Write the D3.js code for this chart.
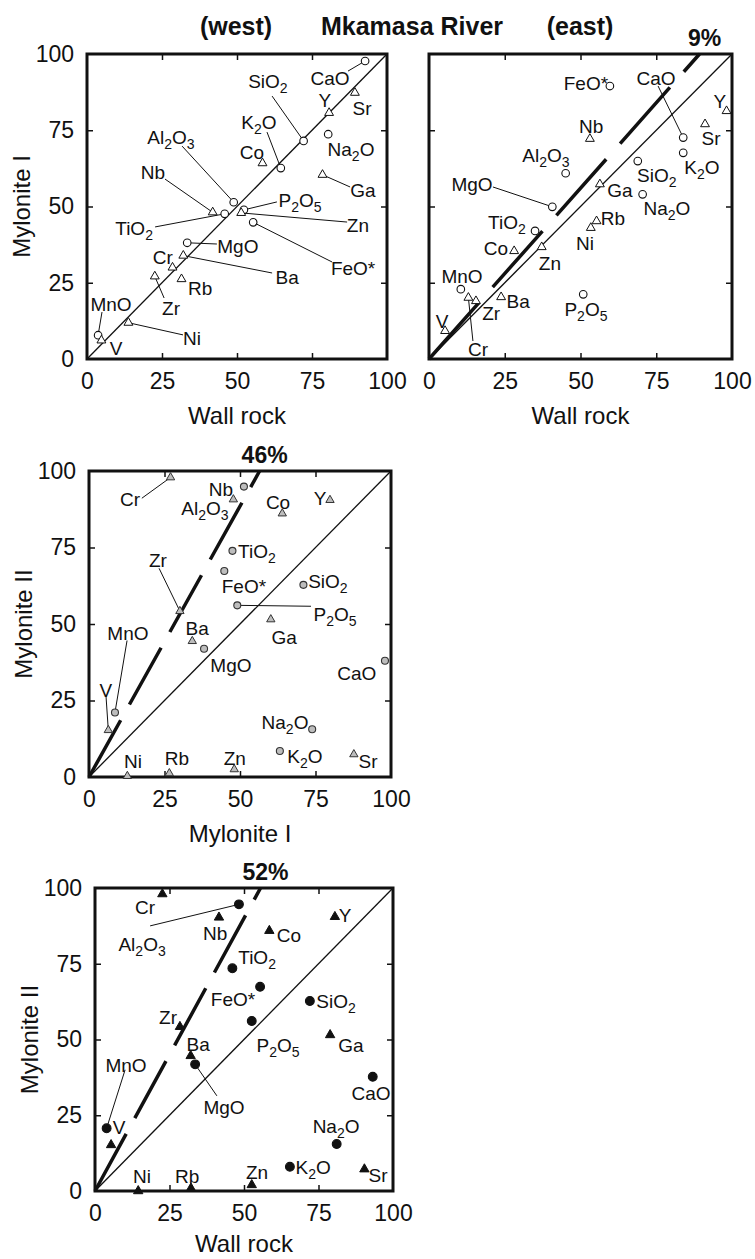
<!DOCTYPE html>
<html>
<head>
<meta charset="utf-8">
<script src="https://cdn.jsdelivr.net/npm/d3@7"></script>
<style>
  body { margin: 0; background: #fff; }
  svg text { font-family: "Liberation Sans", Arial, sans-serif; fill: #111; }
</style>
</head>
<body>
<svg id="chart" width="755" height="1259"></svg>
<script>
// oxides are drawn as circles, trace elements as triangles
const oxides = ["SiO2", "TiO2", "Al2O3", "FeO*", "MnO", "MgO", "CaO", "Na2O", "K2O", "P2O5"];
const traces = ["Ba", "Co", "Cr", "Ga", "Nb", "Ni", "Rb", "Sr", "V", "Y", "Zn", "Zr"];
const ticks = [0, 25, 50, 75, 100];

// scaled concentrations [x, y]

// (west) wall rock vs mylonite I
const westValues = {
  CaO: [92.7, 97.7], SiO2: [72.2, 71.5], Y: [80.7, 80.7], Sr: [89.3, 87.3],
  K2O: [64.6, 62.6], Na2O: [80.4, 73.7], Co: [58.5, 64.2], Ga: [78.5, 60.4],
  Al2O3: [48.9, 51.4], Nb: [41.9, 48.1], TiO2: [45.9, 47.6], P2O5: [52.3, 48.9],
  Zn: [51.4, 47.9], "FeO*": [55.4, 44.8], MgO: [33.4, 38.1], Ba: [32.1, 33.9],
  Cr: [28.5, 30.0], Zr: [22.6, 27.1], Rb: [31.5, 26.2], MnO: [3.7, 7.8],
  V: [4.8, 6.1], Ni: [13.8, 11.9]
};

// (east) wall rock vs mylonite I
const eastValues = {
  "FeO*": [59.7, 89.5], CaO: [83.9, 72.6], Y: [98.2, 81.3], Sr: [91.1, 77.0],
  Nb: [53.1, 72.2], K2O: [83.9, 67.6], SiO2: [68.9, 64.9], Al2O3: [45.1, 60.9],
  Ga: [56.4, 57.3], Na2O: [70.5, 54.0], MgO: [40.7, 49.9], TiO2: [35.0, 42.0],
  Rb: [55.3, 45.2], Ni: [53.4, 43.0], Co: [28.1, 35.4], Zn: [37.2, 36.7],
  MnO: [10.5, 22.9], Cr: [13.0, 20.1], Zr: [15.5, 19.0], Ba: [23.8, 20.3],
  P2O5: [50.9, 21.2], V: [5.3, 9.2]
};

// mylonite I vs mylonite II
const myl1Values = {
  Cr: [27.0, 97.9], Al2O3: [51.3, 94.9], Nb: [47.8, 90.7], Co: [64.0, 86.1],
  Y: [79.8, 90.5], TiO2: [47.5, 73.9], "FeO*": [44.8, 67.3], SiO2: [71.0, 62.8],
  Zr: [30.1, 54.2], P2O5: [49.1, 56.1], Ga: [60.2, 51.5], Ba: [34.2, 44.4],
  MgO: [38.1, 41.9], CaO: [98.0, 38.0], MnO: [8.6, 21.1], V: [6.4, 15.3],
  Na2O: [73.9, 15.6], K2O: [63.2, 8.5], Sr: [87.7, 7.4], Zn: [48.1, 2.5],
  Rb: [26.6, 1.2], Ni: [12.7, 0.3]
};

// wall rock vs mylonite II
const wallValues = {
  Cr: [22.6, 98.0], Al2O3: [48.3, 94.6], Nb: [41.6, 90.3], Y: [80.5, 90.5],
  Co: [58.5, 85.9], TiO2: [46.1, 73.5], "FeO*": [55.4, 67.4], SiO2: [72.1, 62.7],
  Zr: [28.5, 54.2], P2O5: [52.6, 56.1], Ga: [78.9, 51.5], Ba: [32.1, 44.6],
  MgO: [33.6, 41.8], CaO: [93.2, 37.7], MnO: [3.9, 20.7], V: [5.4, 15.2],
  Na2O: [81.1, 15.5], K2O: [65.4, 8.0], Sr: [90.4, 7.2], Zn: [52.6, 2.0],
  Rb: [32.2, 0.9], Ni: [14.5, 0.0]
};

// isocon slopes and mass change labels
const isoconSlopes = [null, 1.12, 1.77, 1.80];
const massChange = [null, "9%", "46%", "52%"];

// label placement, in data units: [labelX, labelY, leaderX, leaderY]
const westLabels = {
  CaO: [81.0, 92.1, 87.0, 94.4], SiO2: [60.3, 91.1, 61.7, 86.2], Y: [79.3, 84.9],
  Sr: [91.7, 82.3], K2O: [57.3, 77.7, 60.0, 74.4], Na2O: [88.0, 68.9], Co: [55.0, 67.9],
  Ga: [92.0, 55.4, 87.7, 56.4], Al2O3: [28.0, 72.8, 31.7, 69.8], Nb: [22.0, 61.3, 26.0, 59.0],
  TiO2: [15.7, 43.0, 22.7, 43.3], P2O5: [71.0, 52.1, 63.3, 51.5], Zn: [90.3, 43.9, 86.7, 44.9],
  "FeO*": [88.7, 29.8, 81.7, 31.8], MgO: [50.3, 37.0, 43.3, 37.7], Ba: [66.7, 26.9, 61.7, 28.2],
  Cr: [25.3, 33.4], Zr: [28.0, 16.7, 25.7, 20.0], Rb: [37.7, 23.3],
  MnO: [8.0, 18.0, 5.0, 15.4], V: [9.7, 3.6], Ni: [35.0, 6.9, 32.0, 7.9]
};
const eastLabels = {
  "FeO*": [51.8, 90.5], CaO: [74.9, 92.1, 75.6, 89.5], Y: [96.0, 84.6], Sr: [93.1, 72.5],
  Nb: [53.5, 76.4], Al2O3: [38.6, 66.9], K2O: [90.1, 63.0], SiO2: [75.2, 60.3],
  Ga: [63.0, 55.4], Na2O: [78.5, 49.5], MgO: [14.2, 57.4, 21.1, 56.4], TiO2: [25.7, 44.9],
  Rb: [60.7, 46.2], Ni: [51.5, 38.0], Co: [22.1, 36.4], Zn: [39.9, 31.5],
  MnO: [10.9, 27.2], Ba: [29.4, 19.0], Zr: [20.5, 15.1], P2O5: [51.8, 16.4],
  V: [4.3, 12.5], Cr: [16.2, 3.3, 14.5, 5.9]
};
const myl1Labels = {
  Cr: [13.6, 90.8, 17.5, 91.1], Nb: [43.7, 94.1], Al2O3: [38.4, 87.9], Co: [62.6, 89.8],
  Y: [76.5, 91.1], TiO2: [55.6, 73.8], "FeO*": [51.3, 62.3], SiO2: [79.1, 63.9],
  Zr: [22.8, 70.8, 23.2, 68.2], P2O5: [81.5, 53.1, 73.5, 55.8], Ga: [64.6, 45.6],
  Ba: [35.8, 48.5], MgO: [47.0, 36.4], CaO: [88.7, 33.8], MnO: [12.9, 46.9, 12.6, 44.6],
  V: [5.6, 28.5, 5.6, 26.9], Na2O: [64.9, 18.0], K2O: [71.5, 6.9], Sr: [92.4, 5.2],
  Zn: [48.3, 6.2], Rb: [29.1, 6.2], Ni: [14.6, 5.2]
};
const wallLabels = {
  Cr: [16.8, 93.7], Al2O3: [15.8, 81.5, 18.5, 87.5], Nb: [40.3, 85.1], Y: [83.9, 91.1],
  Co: [65.1, 84.5], TiO2: [54.4, 77.2], "FeO*": [46.3, 63.4], SiO2: [80.9, 62.7],
  Zr: [24.5, 57.4], P2O5: [61.4, 48.2], Ga: [85.9, 48.2], Ba: [34.6, 48.5],
  MgO: [43.3, 27.7, 40.9, 31.4], CaO: [92.6, 32.3], MnO: [10.4, 41.6, 10.1, 40.0],
  V: [8.1, 21.1], Na2O: [80.9, 21.5], K2O: [73.2, 7.9], Sr: [95.0, 5.3],
  Zn: [54.4, 6.3], Rb: [30.9, 5.0], Ni: [15.8, 5.0]
};

// panel layout
const panels = [
  { left: 87, top: 54, w: 300, h: 305, values: westValues, labels: westLabels,
    xTitle: "Wall rock", yTitle: "Mylonite I", yTicks: true, style: "open", dash: null },
  { left: 429, top: 54, w: 303, h: 305, values: eastValues, labels: eastLabels,
    xTitle: "Wall rock", yTitle: null, yTicks: false, style: "open", dash: "75,21" },
  { left: 89, top: 471, w: 302, h: 306, values: myl1Values, labels: myl1Labels,
    xTitle: "Mylonite I", yTitle: "Mylonite II", yTicks: true, style: "gray", dash: "65,18" },
  { left: 95, top: 888, w: 298, h: 303, values: wallValues, labels: wallLabels,
    xTitle: "Wall rock", yTitle: "Mylonite II", yTicks: true, style: "solid", dash: "65,18" }
];

const markerStyle = {
  open:  { fill: "#fff", stroke: "#111", r: 3.8, tri: 34 },
  gray:  { fill: "#bdbdbd", stroke: "#333", r: 3.5, tri: 30 },
  solid: { fill: "#111", stroke: "#111", r: 4.4, tri: 38 }
};

const svg = d3.select("#chart");

// title
svg.append("text").attr("x", 236).attr("y", 35).attr("text-anchor", "middle")
  .attr("font-size", 25).attr("font-weight", "bold").text("(west)");
svg.append("text").attr("x", 412).attr("y", 35).attr("text-anchor", "middle")
  .attr("font-size", 25).attr("font-weight", "bold").text("Mkamasa River");
svg.append("text").attr("x", 580).attr("y", 35).attr("text-anchor", "middle")
  .attr("font-size", 25).attr("font-weight", "bold").text("(east)");

// text with subscripted digits, e.g. Al2O3
function chemText(sel, str) {
  const parts = str.match(/\d+|\D+/g);
  let wasSub = false;
  parts.forEach(s => {
    const isNum = /\d/.test(s);
    const t = sel.append("tspan").text(s);
    if (isNum) t.attr("font-size", 14).attr("dy", 5);
    else if (wasSub) t.attr("dy", -5);
    wasSub = isNum;
  });
}

panels.forEach((p, i) => {
  const x = d3.scaleLinear().domain([0, 100]).range([p.left, p.left + p.w]);
  const y = d3.scaleLinear().domain([0, 100]).range([p.top + p.h, p.top]);
  const g = svg.append("g");
  const ms = markerStyle[p.style];

  // inward ticks on all four sides
  const inner = [25, 50, 75];
  const tickAxes = [
    [d3.axisBottom(x), `translate(0,${y(0)})`],
    [d3.axisTop(x), `translate(0,${y(100)})`],
    [d3.axisLeft(y), `translate(${x(0)},0)`],
    [d3.axisRight(y), `translate(${x(100)},0)`]
  ];
  tickAxes.forEach(([ax, tr]) => {
    g.append("g").attr("transform", tr)
      .call(ax.tickValues(inner).tickSize(-6).tickFormat(""))
      .call(a => a.select(".domain").remove())
      .selectAll("line").attr("stroke", "#111").attr("stroke-width", 1.5);
  });

  // tick labels
  g.append("g").attr("transform", `translate(0,${y(0)})`)
    .call(d3.axisBottom(x).tickValues(ticks).tickSize(0).tickPadding(14))
    .call(a => a.select(".domain").remove())
    .attr("font-size", 23).attr("font-family", null);
  if (p.yTicks) {
    g.append("g").attr("transform", `translate(${x(0)},0)`)
      .call(d3.axisLeft(y).tickValues(ticks).tickSize(0).tickPadding(13))
      .call(a => a.select(".domain").remove())
      .attr("font-size", 23).attr("font-family", null);
  }
  g.selectAll(".tick text").attr("fill", "#111");

  // axis titles (the last one is kept inside the page)
  g.append("text").attr("x", x(50)).attr("y", Math.min(y(0) + 65, 1252))
    .attr("text-anchor", "middle").attr("font-size", 24).text(p.xTitle);
  if (p.yTitle) {
    g.append("text")
      .attr("transform", `translate(${x(0) - 57},${y(50)}) rotate(-90)`)
      .attr("text-anchor", "middle").attr("font-size", 24).text(p.yTitle);
  }

  // 1:1 line
  g.append("line")
    .attr("x1", x(0)).attr("y1", y(0)).attr("x2", x(100)).attr("y2", y(100))
    .attr("stroke", "#111").attr("stroke-width", 1.3);

  // isocon (dashed, thick)
  if (isoconSlopes[i]) {
    const xEnd = 100 / isoconSlopes[i];
    g.append("line")
      .attr("x1", x(0)).attr("y1", y(0)).attr("x2", x(xEnd)).attr("y2", y(100))
      .attr("stroke", "#111").attr("stroke-width", 3.5)
      .attr("stroke-dasharray", p.dash);
    g.append("text").attr("x", x(xEnd) + 5).attr("y", y(100) - 8)
      .attr("text-anchor", "middle").attr("font-size", 23).attr("font-weight", "bold")
      .text(massChange[i]);
  }

  // frame
  g.append("rect")
    .attr("x", x(0)).attr("y", y(100)).attr("width", p.w).attr("height", p.h)
    .attr("fill", "none").attr("stroke", "#111").attr("stroke-width", 3);

  const names = Object.keys(p.values);

  // leader lines
  names.forEach(n => {
    const lab = p.labels[n];
    if (lab && lab.length === 4) {
      const v = p.values[n];
      g.append("line")
        .attr("x1", x(lab[2])).attr("y1", y(lab[3]))
        .attr("x2", x(v[0])).attr("y2", y(v[1]))
        .attr("stroke", "#111").attr("stroke-width", 1);
    }
  });

  // markers
  g.selectAll("circle.ox")
    .data(names.filter(n => oxides.includes(n)))
    .enter().append("circle")
    .attr("class", "ox")
    .attr("cx", n => x(p.values[n][0])).attr("cy", n => y(p.values[n][1]))
    .attr("r", ms.r).attr("fill", ms.fill).attr("stroke", ms.stroke).attr("stroke-width", 1.1);

  g.selectAll("path.tr")
    .data(names.filter(n => traces.includes(n)))
    .enter().append("path")
    .attr("class", "tr")
    .attr("d", d3.symbol(d3.symbolTriangle, ms.tri))
    .attr("transform", n => `translate(${x(p.values[n][0])},${y(p.values[n][1])})`)
    .attr("fill", ms.fill).attr("stroke", ms.stroke).attr("stroke-width", 1);

  // element labels
  names.forEach(n => {
    const lab = p.labels[n];
    if (!lab) return;
    const t = g.append("text")
      .attr("x", x(lab[0])).attr("y", y(lab[1]) + 6.8)
      .attr("text-anchor", "middle").attr("font-size", 19);
    chemText(t, n);
  });
});
</script>
</body>
</html>
